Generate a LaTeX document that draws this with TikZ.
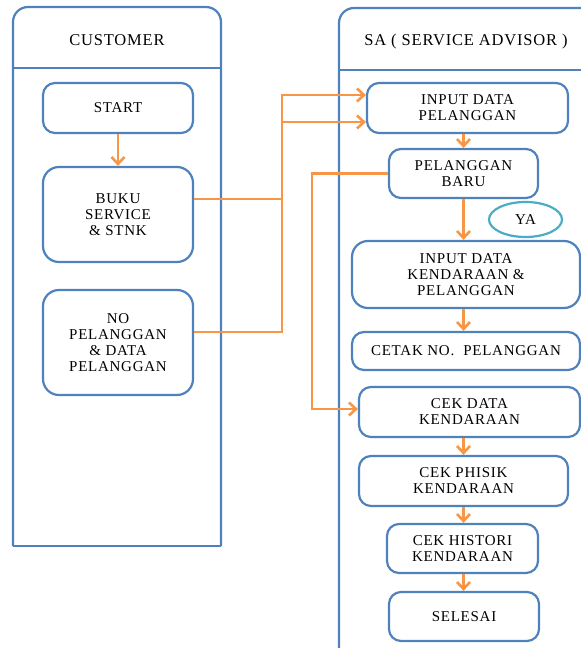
\documentclass[tikz,border=0pt]{standalone}
\usepackage{fontspec}
\setmainfont{Liberation Serif}[LetterSpace=5]
\usetikzlibrary{arrows.meta,shapes.geometric}
\definecolor{laneblue}{RGB}{79,129,189}
\definecolor{floworange}{RGB}{247,150,70}
\definecolor{yateal}{RGB}{75,172,198}

\begin{document}
\begin{tikzpicture}[x=1pt,y=-1pt,
    lane/.style={laneblue,line width=2.2pt},
    title/.style={font=\fontsize{16.5}{18}\selectfont},
    box/.style={draw=laneblue,line width=2.2pt,rounded corners=12pt,align=center,
        inner sep=2pt,font=\fontsize{15}{16}\selectfont},
    flow/.style={floworange,line width=2.6pt,-{Straight Barb[length=7pt,width=13pt]}}]
    \useasboundingbox (0,0) rectangle (581,648);
    \clip (0,0) rectangle (581,648);

    % swimlanes
    \draw [lane,rounded corners=15] (13,546) -- (13,7) -- (221,7) -- (221,546);
    \draw [lane] (13,546) -- (221,546);
    \draw [lane] (13,68) -- (221,68);
    \node [title] (cust) at (117,40) {CUSTOMER};

    \draw [lane,rounded corners=15] (339,660) -- (339,8) -- (600,8);
    \draw [lane] (339,70) -- (600,70);
    \node [title] (sa) at (466,42) {SA ( SERVICE ADVISOR )};

    % customer
    \node [box,minimum width=150,minimum height=50] (start) at (118,108) {START};
    \node [box,minimum width=150,minimum height=95,rounded corners=16pt] (buku) at (118,214.5) {BUKU\\SERVICE\\\& STNK};
    \node [box,minimum width=150,minimum height=105,rounded corners=16pt] (nopel) at (118,342.5) {NO\\PELANGGAN\\\& DATA\\PELANGGAN};

    % service advisor
    \node [box,minimum width=201,minimum height=50] (inpel) at (467.5,108) {INPUT DATA\\PELANGGAN};
    \node [box,minimum width=149,minimum height=49] (baru) at (463.5,173.5) {PELANGGAN\\BARU};
    \node [draw=yateal,line width=2.2pt,ellipse,minimum width=73,minimum height=35,
        font=\fontsize{15}{16}\selectfont] (ya) at (525.5,219.5) {YA};
    \node [box,minimum width=228,minimum height=67,rounded corners=16pt] (inken) at (466,274.5) {INPUT DATA\\KENDARAAN \&\\PELANGGAN};
    \node [box,minimum width=228,minimum height=38] (cetak) at (466,351) {CETAK NO.\ \ PELANGGAN};
    \node [box,minimum width=221,minimum height=50] (cekdata) at (469.5,412) {CEK DATA\\KENDARAAN};
    \node [box,minimum width=209,minimum height=50] (phisik) at (463.5,481) {CEK PHISIK\\KENDARAAN};
    \node [box,minimum width=151,minimum height=49] (histori) at (462.5,548.5) {CEK HISTORI\\KENDARAAN};
    \node [box,minimum width=150,minimum height=49] (selesai) at (464,616.5) {SELESAI};

    % flows
    \draw [flow] (start) -- (buku);
    \draw [flow] ([yshift=15.5pt]buku.east) -- ++(88,0) |- ([yshift=13pt]inpel.west);
    \draw [flow] ([yshift=10.5pt]nopel.east) -- ++(88,0) |- ([yshift=-14pt]inpel.west);
    \draw [flow] (baru.north |- inpel.south) -- (baru.north);
    \draw [flow] (baru.west) -- ++(-76,0) |- ([yshift=3pt]cekdata.west);
    \draw [flow] (baru.south) -- (baru.south |- inken.north);
    \draw [flow] (baru.south |- inken.south) -- (baru.south |- cetak.north);
    \draw [flow] (phisik.north |- cekdata.south) -- (phisik.north);
    \draw [flow] (phisik.south) -- (phisik.south |- histori.north);
    \draw [flow] (phisik.south |- histori.south) -- (phisik.south |- selesai.north);
\end{tikzpicture}
\end{document}
